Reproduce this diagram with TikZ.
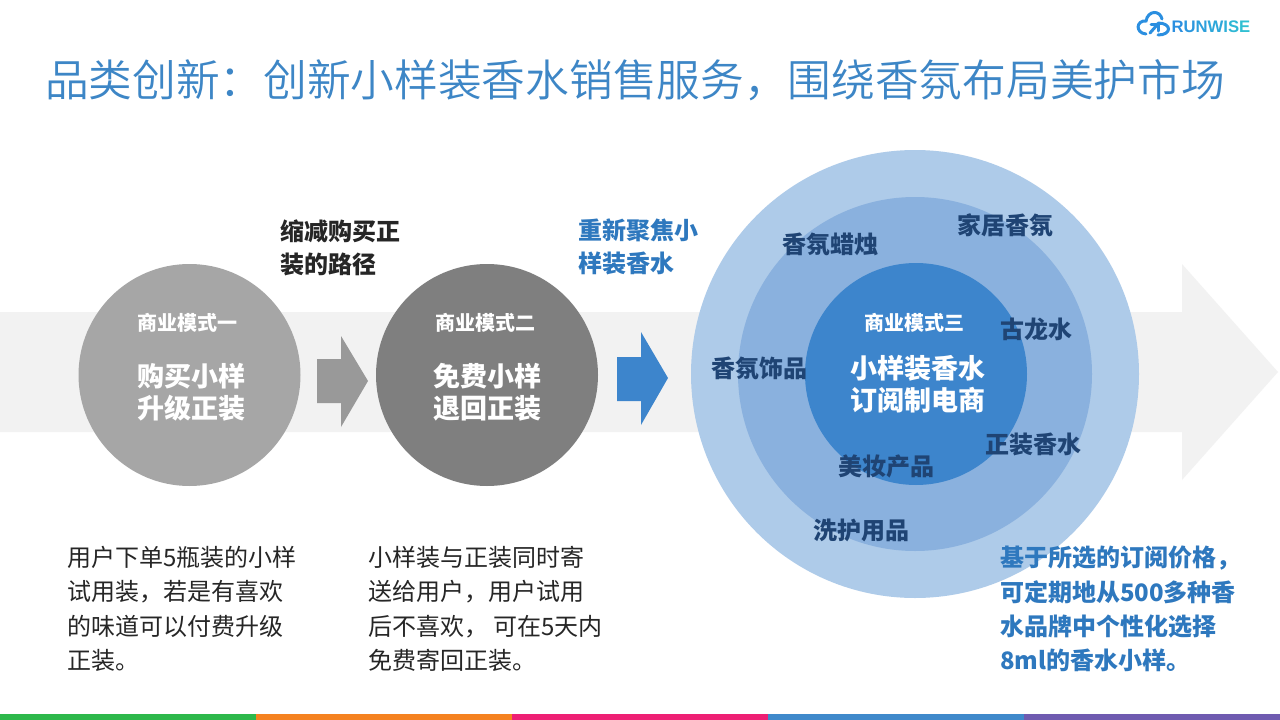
\documentclass[tikz,border=0pt]{standalone}
\usepackage{fontspec}
\setmainfont{Noto Sans CJK SC}
\newfontfamily\titlefont{Noto Sans CJK SC DemiLight}
\newfontfamily\logofont{Liberation Sans}
\newcommand{\qcomma}{\char"FF0C\relax}
\newcommand{\qcolon}{\char"FF1A\relax}
\definecolor{titleblue}{HTML}{3D86C6}
\definecolor{labelblue}{HTML}{2E78BE}
\definecolor{ringtext}{HTML}{1F4474}
\definecolor{bodytext}{HTML}{262626}
\definecolor{bandgray}{HTML}{F2F2F2}
\definecolor{logoblue}{HTML}{2B8FE0}
\tikzset{
  x=1pt,y=-1pt,
  every node/.style={inner sep=0pt,outer sep=0pt},
  titletext/.style={anchor=west,text=titleblue,font=\titlefont\fontsize{43.7}{50}\selectfont},
  bodyblock/.style={anchor=west,align=left,text=bodytext,font=\fontsize{24}{34.3}\selectfont},
  noteblock/.style={anchor=west,align=left,text=bodytext,font=\fontsize{24}{33}\selectfont\bfseries},
  blueblock/.style={noteblock,text=labelblue},
  bluepara/.style={blueblock,font=\fontsize{24}{34.3}\selectfont\bfseries},
  modesmall/.style={text=white,font=\fontsize{20}{24}\selectfont\bfseries},
  modebig/.style={text=white,align=center,font=\fontsize{27}{32}\selectfont\bfseries},
  ringlabel/.style={text=ringtext,font=\fontsize{24}{28}\selectfont\bfseries},
  disc/.style={circle,minimum size=#1,draw=none},
}
\begin{document}
\begin{tikzpicture}
\useasboundingbox (0,0) rectangle (1280,720);
\fill[white] (0,0) rectangle (1280,720);
% band arrow
\fill[bandgray] (0,312) -- (1182,312) -- (1182,264) -- (1278,372) -- (1182,480) -- (1182,432) -- (0,432) -- cycle;
% bottom strip
\fill[fill={rgb,255:red,45;green,184;blue,75}] (0,714) rectangle (256,720);
\fill[fill={rgb,255:red,245;green,130;blue,32}] (256,714) rectangle (512,720);
\fill[fill={rgb,255:red,238;green,31;blue,116}] (512,714) rectangle (768,720);
\fill[fill={rgb,255:red,63;green,137;blue,203}] (768,714) rectangle (1024,720);
\fill[fill={rgb,255:red,111;green,91;blue,176}] (1024,714) rectangle (1280,720);
% title
\node[titletext] (title) at (45,80) {品类创新\qcolon 创新小样装香水销售服务\qcomma 围绕香氛布局美护市场};
% logo
\begin{scope}[line width=3pt,draw=logoblue,line cap=round]
\draw (1146,34) .. controls (1135,33) and (1136,20) .. (1146,21) .. controls (1148,10) and (1160,10) .. (1162,19);
\draw (1158,23) .. controls (1172,23) and (1172,35) .. (1158,35);
\draw (1150,33) -- (1157,25);
\draw (1151,24.5) -- (1158,24.5) -- (1158,31);
\end{scope}
\node[anchor=west,font=\logofont\fontsize{16.7}{20}\selectfont\bfseries] (logo) at (1171.5,26.5) {\textcolor[HTML]{2B8FE0}{R}\textcolor[HTML]{2B97DE}{U}\textcolor[HTML]{2C9FDC}{N}\textcolor[HTML]{2DA7DA}{W}\textcolor[HTML]{2EAFD8}{I}\textcolor[HTML]{2FB7D5}{S}\textcolor[HTML]{30BFD2}{E}};
% circles
\node[disc=222pt,fill={rgb,255:red,166;green,166;blue,166}] (m1) at (189.5,375) {};
\node[disc=222pt,fill={rgb,255:red,127;green,127;blue,127}] (m2) at (487,375) {};
\node[disc=448pt,fill={rgb,255:red,174;green,203;blue,233}] (outer) at (915,374) {};
\node[disc=354pt,fill={rgb,255:red,138;green,177;blue,222}] (middle) at (915,374) {};
\node[disc=222pt,fill={rgb,255:red,61;green,133;blue,204}] (inner) at (916,374) {};
% arrows
\fill[fill={rgb,255:red,153;green,153;blue,153}] (317,359) -- (341,359) -- (341,336) -- (368,381) -- (341,427) -- (341,403) -- (317,403) -- cycle;
\fill[fill={rgb,255:red,61;green,133;blue,204}] (617,357) -- (641,357) -- (641,332) -- (668,378) -- (641,425) -- (641,401) -- (617,401) -- cycle;
% circle text
\node[modesmall] (m1a) at (187,323) {商业模式一};
\node[modebig] (m1b) at (191,392) {购买小样\\升级正装};
\node[modesmall] (m2a) at (485,323) {商业模式二};
\node[modebig] (m2b) at (487,392) {免费小样\\退回正装};
\node[modesmall] (m3a) at (914,323) {商业模式三};
\node[modebig] (m3b) at (918,384) {小样装香水\\订阅制电商};
% ring labels
\node[ringlabel] (r1) at (1005,225) {家居香氛};
\node[ringlabel] (r2) at (830,244) {香氛蜡烛};
\node[ringlabel] (r3) at (1036,329) {古龙水};
\node[ringlabel] (r4) at (759,368) {香氛饰品};
\node[ringlabel] (r5) at (1033,444) {正装香水};
\node[ringlabel] (r6) at (886,466) {美妆产品};
\node[ringlabel] (r7) at (861,530) {洗护用品};
% labels
\node[noteblock] (n1) at (280,247.5) {缩减购买正\\装的路径};
\node[blueblock] (n2) at (578,246.5) {重新聚焦小\\样装香水};
% paragraphs
\node[bodyblock] (p1) at (67,609) {用户下单5瓶装的小样\\试用装\qcomma 若是有喜欢\\的味道可以付费升级\\正装。};
\node[bodyblock] (p2) at (368,609) {小样装与正装同时寄\\送给用户\qcomma 用户试用\\后不喜欢\qcomma{} 可在5天内\\免费寄回正装。};
\node[bluepara] (p3) at (1000,609) {基于所选的订阅价格\qcomma\\可定期地从500多种香\\水品牌中个性化选择\\8ml的香水小样。};
\end{tikzpicture}
\end{document}
